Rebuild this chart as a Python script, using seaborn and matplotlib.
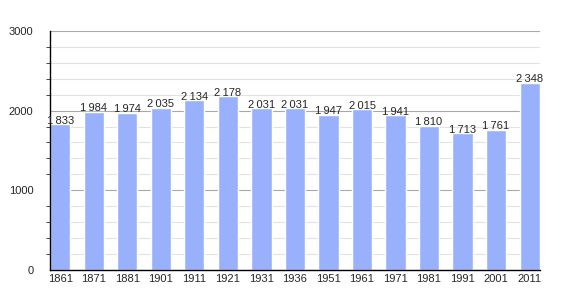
import matplotlib
matplotlib.use("Agg")
import matplotlib.pyplot as plt
import seaborn as sns
import pandas as pd
from matplotlib.ticker import MultipleLocator

years = ["1861", "1871", "1881", "1901", "1911", "1921", "1931", "1936",
         "1951", "1961", "1971", "1981", "1991", "2001", "2011"]
population = [1833, 1984, 1974, 2035, 2134, 2178, 2031, 2031,
              1947, 2015, 1941, 1810, 1713, 1761, 2348]

df = pd.DataFrame({"year": years, "pop": population})

sns.set_style("white")
plt.rcParams['font.family'] = ['Liberation Sans', 'DejaVu Sans']

fig = plt.figure(figsize=(5.7, 3.0), dpi=100)
ax = fig.add_axes([0.0877, 0.1, 0.8596, 0.797])

sns.barplot(data=df, x="year", y="pop", color="#99b1fc", saturation=1,
            width=0.6, ax=ax, zorder=3)

ax.set_ylim(0, 3000)
ax.set_xlim(-0.31, 14.31)
ax.yaxis.set_major_locator(MultipleLocator(1000))
ax.yaxis.set_minor_locator(MultipleLocator(200))
ax.grid(which="major", axis="y", color="#a8a8a8", linewidth=0.8, zorder=0)
ax.grid(which="minor", axis="y", color="#e2e2e2", linewidth=0.8, zorder=0)
ax.set_axisbelow(True)

for s in ["top", "right"]:
    ax.spines[s].set_visible(False)
for s in ["left", "bottom"]:
    ax.spines[s].set_color("black")
    ax.spines[s].set_linewidth(1.0)
    ax.spines[s].set_zorder(5)

ax.tick_params(axis="y", which="major", length=5, width=0.8, labelsize=8, pad=7)
ax.tick_params(axis="y", which="minor", length=3, width=0.6, left=True)
ax.tick_params(axis="x", length=0, labelsize=8, pad=3)
ax.set_xlabel("")
ax.set_ylabel("")

for i, v in enumerate(population):
    s = f"{v:,}".replace(",", "\u2009")
    ax.text(i, v - 20, s, ha="center", va="bottom", fontsize=8, zorder=6)

fig.savefig("out.png", dpi=100)
